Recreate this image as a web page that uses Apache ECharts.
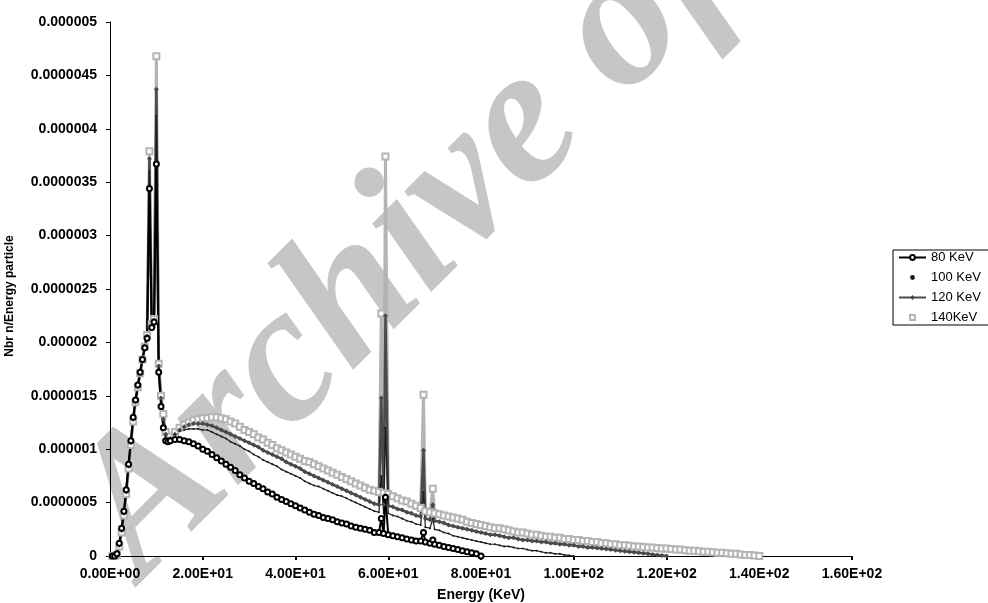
<!DOCTYPE html>
<html>
<head>
<meta charset="utf-8">
<script src="https://cdn.jsdelivr.net/npm/echarts@6/dist/echarts.min.js"></script>
<style>
html,body{margin:0;padding:0;background:#fff;}
#chart{width:988px;height:603px;}
</style>
</head>
<body>
<div id="chart"></div>
<script>
// ---- data (values in units of 1e-6) ----
const UNIT = 1e-6;
const seriesNames = ['80 KeV', '100 KeV', '120 KeV', '140KeV'];
const xTickLabels = ['0.00E+00','2.00E+01','4.00E+01','6.00E+01','8.00E+01','1.00E+02','1.20E+02','1.40E+02','1.60E+02'];
const yTickLabels = ['0','0.0000005','0.000001','0.0000015','0.000002','0.0000025','0.000003','0.0000035','0.000004','0.0000045','0.000005'];

// low-energy region (L lines of tungsten) energies, keV
const lowKeV = [0.5,1,1.5,2,2.5,3,3.5,4,4.5,5,5.5,6,6.5,7,7.5,8,8.5,9,9.5,10,10.5,11,11.5,12,12.5];
const low80  = [0,0,0.02,0.12,0.26,0.42,0.62,0.86,1.08,1.30,1.46,1.60,1.72,1.84,1.95,2.04,3.44,2.14,2.19,3.67,1.72,1.40,1.20,1.08,1.07];
const low100 = [0,0,0.02,0.11,0.25,0.41,0.61,0.85,1.07,1.29,1.46,1.60,1.73,1.85,1.96,2.05,3.60,2.15,2.20,4.12,1.76,1.45,1.25,1.12,1.09];
const low120 = [0,0,0.01,0.10,0.24,0.40,0.60,0.84,1.06,1.28,1.45,1.59,1.72,1.84,1.96,2.06,3.72,2.16,2.21,4.37,1.78,1.48,1.28,1.14,1.09];
const low140 = [0,0,0.01,0.09,0.22,0.38,0.58,0.82,1.04,1.26,1.44,1.58,1.71,1.84,1.96,2.07,3.79,2.17,2.22,4.68,1.80,1.50,1.33,1.16,1.10];

// continuum, 1 keV bins starting at 13 keV
const CONT_START_KEV = 13;
const cont80 = [1.08,1.09,1.09,1.08,1.07,1.05,1.03,1.00,0.98,0.95,
  0.92,0.89,0.86,0.83,0.80,0.76,0.73,0.70,0.68,0.65,
  0.63,0.60,0.58,0.55,0.53,0.51,0.49,0.47,0.45,0.43,
  0.41,0.39,0.38,0.36,0.35,0.34,0.32,0.31,0.30,0.28,
  0.27,0.26,0.25,0.24,0.22,0.22,0.21,0.20,0.19,0.18,
  0.17,0.16,0.15,0.14,0.14,0.13,0.12,0.11,0.10,0.09,
  0.08,0.07,0.06,0.05,0.04,0.03,0.02,0.00];
const cont100 = [1.10,1.14,1.17,1.18,1.19,1.19,1.19,1.18,1.18,1.16,
  1.14,1.12,1.10,1.07,1.05,1.03,1.00,0.98,0.95,0.93,
  0.90,0.88,0.86,0.84,0.81,0.79,0.77,0.75,0.73,0.70,
  0.68,0.66,0.65,0.63,0.61,0.59,0.57,0.56,0.54,0.52,
  0.50,0.48,0.46,0.44,0.42,0.41,0.40,0.40,0.38,0.37,
  0.35,0.33,0.32,0.30,0.29,0.27,0.26,0.25,0.24,0.22,
  0.21,0.19,0.18,0.17,0.16,0.15,0.14,0.13,0.12,0.11,
  0.11,0.10,0.09,0.09,0.08,0.07,0.07,0.06,0.05,0.05,
  0.04,0.03,0.03,0.02,0.02,0.01,0.005,0];
const cont120 = [1.10,1.14,1.18,1.21,1.23,1.24,1.24,1.24,1.23,1.22,
  1.20,1.18,1.16,1.14,1.12,1.10,1.08,1.06,1.04,1.02,
  0.99,0.97,0.95,0.93,0.91,0.88,0.86,0.84,0.82,0.79,
  0.77,0.75,0.73,0.71,0.69,0.67,0.65,0.63,0.61,0.59,
  0.57,0.55,0.53,0.51,0.49,0.48,0.48,0.47,0.46,0.44,
  0.43,0.41,0.40,0.38,0.37,0.35,0.34,0.33,0.32,0.31,
  0.29,0.28,0.27,0.26,0.25,0.24,0.23,0.22,0.21,0.20,
  0.20,0.19,0.18,0.17,0.17,0.16,0.15,0.15,0.14,0.14,
  0.13,0.13,0.12,0.12,0.11,0.11,0.10,0.10,0.09,0.09,
  0.08,0.08,0.075,0.07,0.065,0.06,0.055,0.05,0.045,0.04,
  0.035,0.03,0.025,0.02,0.015,0.01,0.005,0];
const cont140 = [1.12,1.16,1.20,1.23,1.25,1.27,1.28,1.29,1.29,1.30,
  1.30,1.29,1.28,1.26,1.24,1.21,1.18,1.16,1.14,1.11,
  1.09,1.06,1.04,1.01,0.99,0.97,0.95,0.93,0.91,0.89,
  0.88,0.86,0.84,0.82,0.80,0.78,0.76,0.74,0.72,0.70,
  0.68,0.66,0.64,0.62,0.61,0.60,0.59,0.58,0.56,0.54,
  0.52,0.51,0.49,0.47,0.45,0.42,0.41,0.40,0.39,0.38,
  0.37,0.36,0.35,0.34,0.32,0.31,0.30,0.29,0.28,0.27,
  0.26,0.26,0.25,0.24,0.23,0.22,0.22,0.21,0.20,0.20,
  0.19,0.18,0.18,0.17,0.17,0.16,0.16,0.15,0.15,0.14,
  0.14,0.13,0.13,0.12,0.12,0.11,0.11,0.10,0.10,0.095,
  0.09,0.09,0.085,0.08,0.08,0.075,0.07,0.07,0.065,0.06,
  0.06,0.055,0.05,0.05,0.045,0.04,0.04,0.035,0.03,0.03,
  0.025,0.02,0.02,0.015,0.01,0.01,0.005,0];

// K characteristic lines (keV) and their peak values
const lineKeV = [58.5, 59.4, 67.6, 69.6];
const line80  = [0.35, 0.55, 0.22, 0.15];
const line100 = [0.75, 1.20, 0.60, 0.35];
const line120 = [1.48, 2.25, 0.99, 0.48];
const line140 = [2.27, 3.74, 1.51, 0.63];

function build(low, cont, lines) {
  const pts = [];
  lowKeV.forEach((e, i) => pts.push([e, low[i] * UNIT]));
  cont.forEach((v, i) => pts.push([CONT_START_KEV + i, v * UNIT]));
  lineKeV.forEach((e, i) => pts.push([e, lines[i] * UNIT]));
  pts.sort((a, b) => a[0] - b[0]);
  return pts;
}

const chart = echarts.init(document.getElementById('chart'), null, {renderer: 'canvas'});
const FONT = '"Liberation Sans", Arial, sans-serif';
const labelFont = {color: '#000', fontWeight: 'bold', fontSize: 14, fontFamily: FONT};

const option = {
  animation: false,
  backgroundColor: '#fff',
  grid: {left: 110, right: 136, top: 22, bottom: 47, containLabel: false, outerBoundsMode: 'none'},
  graphic: [{
    type: 'text', x: 176, y: 614, rotation: Math.PI / 4, z: -10, silent: true,
    style: {
      text: 'Archive of SID', fill: '#c6c6c6',
      fontSize: 196, fontStyle: 'italic', fontWeight: 'bold', fontFamily: '"Liberation Serif", serif',
      verticalAlign: 'bottom'
    }
  }],
  legend: {
    orient: 'vertical', left: 893, top: 250,
    padding: [1, 14, 1, 5], itemGap: 7, itemWidth: 27, itemHeight: 6,
    borderColor: '#000', borderWidth: 1, backgroundColor: '#fff',
    textStyle: {color: '#000', fontSize: 13, fontFamily: FONT, lineHeight: 13},
    data: [
      {name: seriesNames[0]},
      {name: seriesNames[1], lineStyle: {opacity: 0}},
      {name: seriesNames[2]},
      {name: seriesNames[3], lineStyle: {opacity: 0}}
    ]
  },
  xAxis: {
    type: 'value', min: 0, max: 160, interval: 20,
    name: 'Energy (KeV)', nameLocation: 'middle', nameGap: 32,
    nameTextStyle: {color: '#000', fontWeight: 'bold', fontSize: 14, fontFamily: FONT},
    axisLine: {lineStyle: {color: '#000', width: 1}},
    axisTick: {length: 4, lineStyle: {color: '#000', width: 2}},
    splitLine: {show: false},
    axisLabel: Object.assign({margin: 11, formatter: v => xTickLabels[Math.round(v / 20)]}, labelFont)
  },
  yAxis: {
    type: 'value', min: 0, max: 5e-6, interval: 5e-7,
    name: 'Nbr n/Energy particle', nameLocation: 'middle', nameGap: 94,
    nameTextStyle: {color: '#000', fontWeight: 'bold', fontSize: 12, fontFamily: FONT, padding: [0, 14, 0, 0]},
    axisLine: {lineStyle: {color: '#000', width: 1}},
    axisTick: {length: 4, lineStyle: {color: '#000', width: 1}},
    splitLine: {show: false},
    axisLabel: Object.assign({margin: 13, formatter: v => yTickLabels[Math.round(v / 5e-7)]}, labelFont)
  },
  series: [
    {name: seriesNames[3], type: 'line', data: build(low140, cont140, line140),
      symbol: 'emptyRect', symbolSize: 6, showAllSymbol: true,
      lineStyle: {color: '#b4b4b4', width: 3}, itemStyle: {color: '#b4b4b4', borderWidth: 1.5}},
    {name: seriesNames[2], type: 'line', data: build(low120, cont120, line120),
      symbol: 'diamond', symbolSize: 5, showAllSymbol: true,
      lineStyle: {color: '#4a4a4a', width: 2.5}, itemStyle: {color: '#4a4a4a'}},
    {name: seriesNames[1], type: 'line', data: build(low100, cont100, line100),
      symbol: 'circle', symbolSize: 2, showAllSymbol: true,
      lineStyle: {color: '#1a1a1a', width: 1.2}, itemStyle: {color: '#1a1a1a'}},
    {name: seriesNames[0], type: 'line', data: build(low80, cont80, line80),
      symbol: 'emptyCircle', symbolSize: 5, showAllSymbol: true,
      lineStyle: {color: '#000', width: 2}, itemStyle: {color: '#000', borderWidth: 1.2}}
  ]
};
chart.setOption(option);
</script>
</body>
</html>
